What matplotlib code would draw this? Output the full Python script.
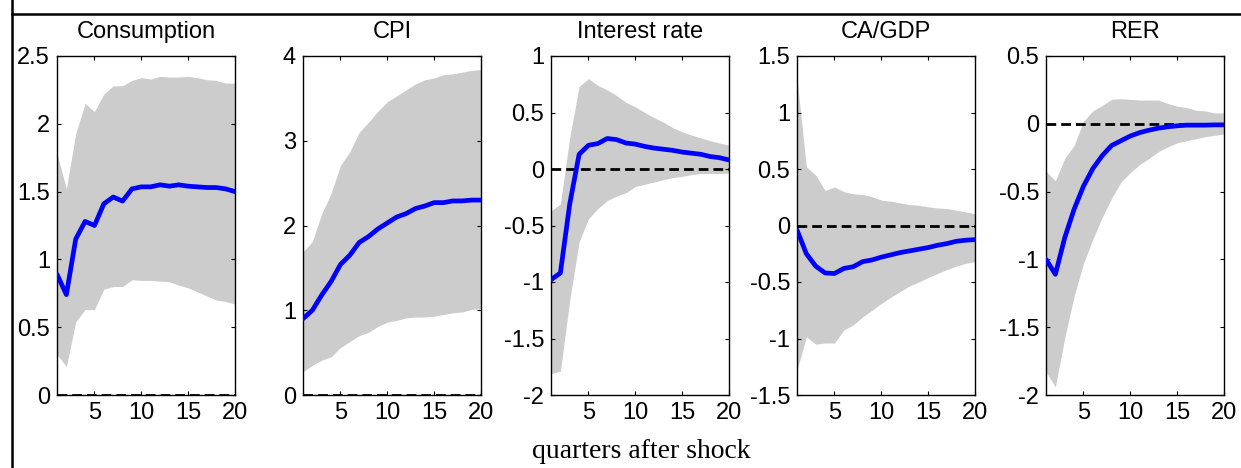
import matplotlib
matplotlib.use("Agg")
import matplotlib.pyplot as plt
from matplotlib.lines import Line2D
import numpy as np

quarters = list(range(1, 21))
titles = ["Consumption", "CPI", "Interest rate", "CA/GDP", "RER"]

cons_mid = [0.89, 0.74, 1.15, 1.28, 1.25, 1.41, 1.46, 1.43, 1.52, 1.535,
            1.535, 1.55, 1.54, 1.55, 1.54, 1.535, 1.53, 1.53, 1.52, 1.50]
cons_up = [1.78, 1.52, 1.93, 2.15, 2.09, 2.22, 2.28, 2.28, 2.32, 2.34,
           2.33, 2.35, 2.345, 2.345, 2.35, 2.34, 2.325, 2.32, 2.30, 2.30]
cons_lo = [0.30, 0.21, 0.54, 0.63, 0.63, 0.78, 0.80, 0.80, 0.85, 0.845,
           0.845, 0.84, 0.835, 0.81, 0.79, 0.76, 0.73, 0.70, 0.69, 0.67]

cpi_mid = [0.90, 1.00, 1.18, 1.34, 1.54, 1.65, 1.80, 1.87, 1.96, 2.03,
           2.10, 2.14, 2.20, 2.23, 2.27, 2.27, 2.29, 2.29, 2.30, 2.30]
cpi_up = [1.69, 1.81, 2.14, 2.38, 2.71, 2.87, 3.10, 3.22, 3.35, 3.46,
          3.53, 3.60, 3.67, 3.72, 3.74, 3.78, 3.79, 3.81, 3.83, 3.84]
cpi_lo = [0.275, 0.35, 0.41, 0.45, 0.56, 0.63, 0.70, 0.74, 0.81, 0.86,
          0.88, 0.91, 0.92, 0.92, 0.93, 0.95, 0.97, 0.98, 1.01, 1.02]

ir_mid = [-0.98, -0.92, -0.31, 0.13, 0.21, 0.225, 0.27, 0.26, 0.23, 0.22,
          0.20, 0.185, 0.175, 0.165, 0.15, 0.14, 0.13, 0.11, 0.10, 0.08]
ir_up = [-0.37, -0.31, 0.28, 0.73, 0.80, 0.74, 0.70, 0.65, 0.59, 0.55,
         0.50, 0.455, 0.415, 0.365, 0.33, 0.30, 0.275, 0.25, 0.23, 0.21]
ir_lo = [-1.81, -1.79, -1.16, -0.645, -0.44, -0.35, -0.28, -0.24, -0.21, -0.155,
         -0.135, -0.115, -0.095, -0.075, -0.065, -0.05, -0.04, -0.04, -0.04, -0.035]

ca_mid = [-0.04, -0.25, -0.36, -0.42, -0.425, -0.38, -0.365, -0.32, -0.305, -0.28,
          -0.26, -0.24, -0.225, -0.21, -0.195, -0.175, -0.16, -0.14, -0.13, -0.125]
ca_up = [1.30, 0.52, 0.445, 0.31, 0.34, 0.30, 0.28, 0.275, 0.255, 0.225,
         0.215, 0.20, 0.185, 0.18, 0.165, 0.155, 0.15, 0.135, 0.12, 0.105]
ca_lo = [-1.28, -0.985, -1.05, -1.04, -1.04, -0.925, -0.88, -0.81, -0.75, -0.69,
         -0.635, -0.585, -0.535, -0.50, -0.46, -0.425, -0.39, -0.36, -0.335, -0.32]

rer_mid = [-1.00, -1.11, -0.84, -0.63, -0.46, -0.33, -0.235, -0.16, -0.125, -0.09,
           -0.065, -0.047, -0.032, -0.022, -0.015, -0.01, -0.01, -0.01, -0.008, -0.008]
rer_up = [-0.35, -0.42, -0.255, -0.16, 0.02, 0.095, 0.135, 0.18, 0.185, 0.18,
          0.175, 0.175, 0.175, 0.15, 0.13, 0.12, 0.10, 0.095, 0.08, 0.08]
rer_lo = [-1.83, -1.94, -1.58, -1.27, -1.03, -0.85, -0.69, -0.55, -0.43, -0.36,
          -0.30, -0.255, -0.205, -0.17, -0.14, -0.125, -0.11, -0.095, -0.085, -0.075]

mids = [cons_mid, cpi_mid, ir_mid, ca_mid, rer_mid]
ups = [cons_up, cpi_up, ir_up, ca_up, rer_up]
los = [cons_lo, cpi_lo, ir_lo, ca_lo, rer_lo]

ylims = [(0, 2.5), (0, 4), (-2, 1), (-1.5, 1.5), (-2, 0.5)]
yticks = [[0, 0.5, 1, 1.5, 2, 2.5], [0, 1, 2, 3, 4],
          [-2, -1.5, -1, -0.5, 0, 0.5, 1],
          [-1.5, -1, -0.5, 0, 0.5, 1, 1.5],
          [-2, -1.5, -1, -0.5, 0, 0.5]]
xticks = [5, 10, 15, 20]

W, H = 1241, 468
fig = plt.figure(figsize=(W / 100, H / 100), dpi=100)
plt.rcParams['font.family'] = ['Liberation Sans', 'DejaVu Sans']

lefts = [57, 303, 551, 797, 1046]
aw = 178
top, bottom = 56, 395

def fmt(v):
    return "%g" % v

for i in range(5):
    ax = fig.add_axes([lefts[i] / W, 1 - bottom / H, aw / W, (bottom - top) / H])
    ax.fill_between(quarters, los[i], ups[i], color="#cccccc", linewidth=0, zorder=1)
    ax.axhline(0, color="black", linestyle=(0, (3.5, 1.8)), linewidth=2.0, zorder=2)
    ax.plot(quarters, mids[i], color="#0000ff", linewidth=3.4, zorder=3,
            solid_capstyle="round", solid_joinstyle="round")
    ax.set_xlim(1, 20)
    ax.set_ylim(*ylims[i])
    ax.set_xticks(xticks)
    ax.set_yticks(yticks[i])
    ax.set_yticklabels([fmt(v) for v in yticks[i]])
    ax.tick_params(direction="in", length=3, width=0.8, top=True, right=True,
                   labelsize=17, pad=5, colors="black")
    for sp in ax.spines.values():
        sp.set_linewidth(1.0)
        sp.set_color("black")
    ax.set_title(titles[i], fontsize=17, pad=13)

fig.text(641 / W, 1 - 451 / H, "quarters after shock", ha="center", va="center",
         fontsize=20, family=["Liberation Serif", "DejaVu Serif"])

fig.add_artist(Line2D([12 / W, 1.0], [1 - 14 / H, 1 - 14 / H], color="black",
                      linewidth=1.8, transform=fig.transFigure))
fig.add_artist(Line2D([12 / W, 12 / W], [0, 1], color="black",
                      linewidth=1.8, transform=fig.transFigure))

fig.savefig("out.png", dpi=100)
